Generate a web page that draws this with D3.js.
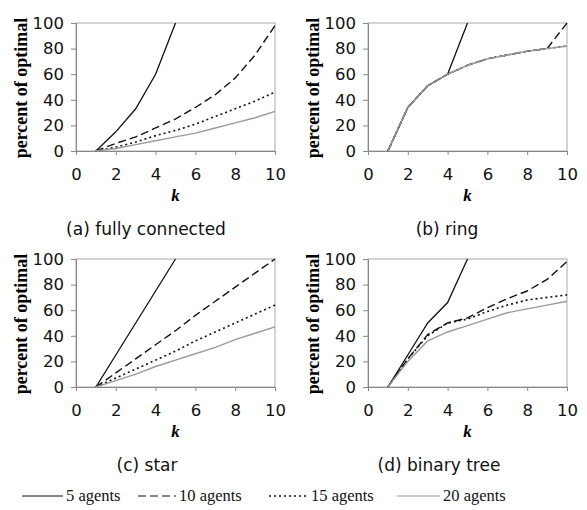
<!DOCTYPE html>
<html>
<head>
<meta charset="utf-8">
<script src="https://cdn.jsdelivr.net/npm/d3@7"></script>
<style>
  body { margin: 0; background: #fff; }
  svg { display: block; }
</style>
</head>
<body>
<svg id="chart" width="587" height="510"></svg>
<script>
// values, k = 1..10 (lines stop where they reach 100)
const kValues = [1, 2, 3, 4, 5, 6, 7, 8, 9, 10];
const seriesNames = ["5 agents", "10 agents", "15 agents", "20 agents"];
const panelTitles = ["(a) fully connected", "(b) ring", "(c) star", "(d) binary tree"];
const xTicks = [0, 2, 4, 6, 8, 10];
const yTicks = [0, 20, 40, 60, 80, 100];

const fullyConnected = [
  [0, 15, 33, 60, 100],
  [0, 6, 11, 18, 25, 34, 44, 57, 75, 98],
  [0, 3, 7, 12, 16, 21, 27, 33, 39, 46],
  [0, 2, 5, 8, 11, 14, 18, 22, 26, 31]
];
const ring = [
  [0, 34, 51, 60, 100],
  [0, 34, 51, 60, 67, 72, 75, 78, 80, 100],
  [0, 34, 51, 60, 67, 72, 75, 78, 80, 82],
  [0, 34, 51, 60, 67, 72, 75, 78, 80, 82]
];
const star = [
  [0, 25, 50, 75, 100],
  [0, 11, 22, 33, 44, 56, 67, 78, 89, 100],
  [0, 7, 14, 21, 28, 36, 43, 50, 57, 64],
  [0, 5, 10, 16, 21, 26, 31, 37, 42, 47]
];
const binaryTree = [
  [0, 25, 50, 66, 100],
  [0, 22, 41, 50, 54, 62, 69, 75, 84, 98],
  [0, 22, 40, 50, 53, 59, 64, 68, 70, 72],
  [0, 20, 36, 43, 48, 53, 58, 61, 64, 67]
];
const panelData = [fullyConnected, ring, star, binaryTree];

// layout
const plotW = 199, plotH = 128;
const panels = [
  { x: 76, y: 23, cap: 146 },
  { x: 368, y: 23, cap: 447 },
  { x: 76, y: 259, cap: 147 },
  { x: 368, y: 259, cap: 439 }
];
const lineStyles = [
  { color: "#111", width: 1.3, dash: null },
  { color: "#111", width: 1.4, dash: "8,4" },
  { color: "#111", width: 1.6, dash: "2,3" },
  { color: "#9a9a9a", width: 1.4, dash: null }
];

const svg = d3.select("#chart");
const sans = "'DejaVu Sans', Verdana, sans-serif";
const serif = "'Liberation Serif', 'Times New Roman', serif";

const x = d3.scaleLinear().domain([0, 10]).range([0, plotW]);
const y = d3.scaleLinear().domain([0, 100]).range([plotH, 0]);

const line = d3.line()
  .x((d, i) => x(kValues[i]))
  .y(d => y(d));

panels.forEach((p, pi) => {
  const g = svg.append("g").attr("transform", `translate(${p.x},${p.y})`);

  g.append("clipPath").attr("id", "clip" + pi)
    .append("rect").attr("x", 0).attr("y", -1).attr("width", plotW + 1).attr("height", plotH + 1);

  // plot box
  g.append("rect")
    .attr("width", plotW).attr("height", plotH)
    .attr("fill", "none").attr("stroke", "#aaa").attr("stroke-width", 1);

  // x axis
  const xAxis = g.append("g").attr("transform", `translate(0,${plotH})`)
    .call(d3.axisBottom(x).tickValues(xTicks).tickSize(4).tickPadding(13));
  xAxis.select(".domain").attr("stroke", "#888");
  xAxis.selectAll(".tick line").attr("stroke", "#888");
  xAxis.selectAll("text").attr("font-family", sans).attr("font-size", 16.5).attr("fill", "#111");

  // y axis
  const yAxis = g.append("g")
    .call(d3.axisLeft(y).tickValues(yTicks).tickSize(5).tickPadding(7));
  yAxis.select(".domain").attr("stroke", "#888");
  yAxis.selectAll(".tick line").attr("stroke", "#888");
  yAxis.selectAll("text").attr("font-family", sans).attr("font-size", 16.5).attr("fill", "#111");

  // y label
  g.append("text")
    .attr("transform", `translate(-49,${plotH / 2 + 1}) rotate(-90)`)
    .attr("text-anchor", "middle")
    .attr("font-family", serif).attr("font-weight", "bold").attr("font-size", 18)
    .text("percent of optimal");

  // x label
  g.append("text")
    .attr("x", plotW / 2).attr("y", plotH + 50)
    .attr("text-anchor", "middle")
    .attr("font-family", serif).attr("font-weight", "bold").attr("font-style", "italic")
    .attr("font-size", 17)
    .text("k");

  // caption
  svg.append("text")
    .attr("x", p.cap).attr("y", p.y + plotH + 84)
    .attr("text-anchor", "middle")
    .attr("font-family", sans).attr("font-size", 17).attr("fill", "#111")
    .text(panelTitles[pi]);

  // series
  panelData[pi].forEach((vals, s) => {
    const st = lineStyles[s];
    g.append("path")
      .datum(vals)
      .attr("clip-path", `url(#clip${pi})`)
      .attr("d", line)
      .attr("fill", "none")
      .attr("stroke", st.color)
      .attr("stroke-width", st.width)
      .attr("stroke-dasharray", st.dash);
  });
});

// legend
const legendItems = [
  { x1: 22, x2: 63 },
  { x1: 138, x2: 176 },
  { x1: 269, x2: 308 },
  { x1: 397, x2: 440 }
];
const ly = 496;
seriesNames.forEach((name, i) => {
  const st = lineStyles[i], it = legendItems[i];
  svg.append("line")
    .attr("x1", it.x1).attr("x2", it.x2).attr("y1", ly).attr("y2", ly)
    .attr("stroke", st.color).attr("stroke-width", st.width - 0.3)
    .attr("stroke-dasharray", st.dash);
  svg.append("text")
    .attr("x", it.x2 + 3).attr("y", ly + 5)
    .attr("font-family", serif).attr("font-size", 16.5).attr("fill", "#111")
    .text(name);
});
</script>
</body>
</html>
